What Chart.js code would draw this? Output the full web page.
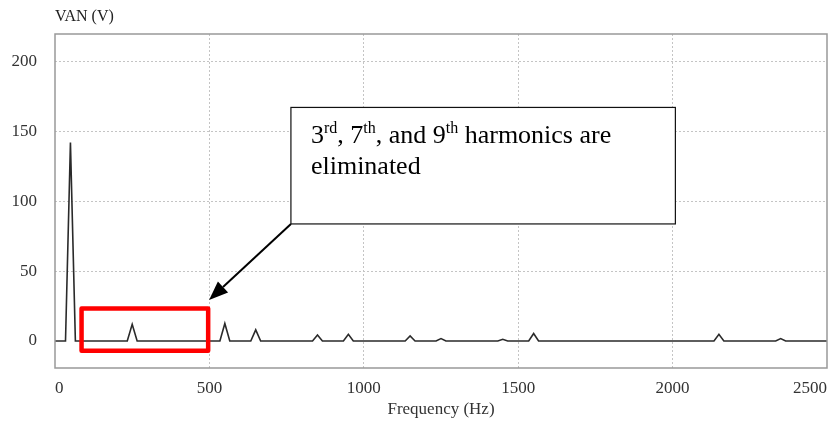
<!DOCTYPE html>
<html>
<head>
<meta charset="utf-8">
<script src="https://cdn.jsdelivr.net/npm/chart.js@4/dist/chart.umd.min.js"></script>
<style>
  body { margin: 0; background: #fff; }
  #wrap { width: 829px; height: 423px; position: relative; }
</style>
</head>
<body>
<div id="wrap"><canvas id="grafico"></canvas></div>
<script>
// spectrum of VAN (Hz / V)
var freqHz = [0, 34, 50, 66, 234, 250, 266, 534, 550, 566, 634, 650, 666,
              834, 850, 866, 934, 950, 966, 1134, 1150, 1166, 1234, 1250, 1266,
              1434, 1450, 1466, 1534, 1550, 1566, 2134, 2150, 2166, 2334, 2350, 2366, 2500];
var vanV = [0, 0, 142, 0, 0, 12, 0, 0, 12.5, 0, 0, 8, 0,
            0, 4.3, 0, 0, 4.8, 0, 0, 3.6, 0, 0, 1.7, 0,
            0, 1.2, 0, 0, 5.4, 0, 0, 4.8, 0, 0, 1.7, 0, 0];

var xTicks = [0, 500, 1000, 1500, 2000, 2500];
var yTicks = [0, 50, 100, 150, 200];

var yTitle = 'VAN (V)';
var xTitle = 'Frequency (Hz)';
// note text: [text, superscript?]
var noteParts = [['3', false], ['rd', true], [', 7', false], ['th', true],
                 [', and 9', false], ['th', true], [' harmonics are', false]];
var noteLine2 = 'eliminated';

var serif = "'Liberation Serif', 'Times New Roman', serif";
var gridCor = '#c4c4c4';

// annotation anchors in data units
var redBox = { x0: 86, x1: 496, y0: -7, y1: 23.2 };
var noteBox = { x0: 764, x1: 2009, y0: 83.7, y1: 167 };
var arrowTip = { x: 499, y: 29.3 };

var pontos = freqHz.map(function (f, i) { return { x: f, y: vanV[i] }; });

var extras = {
    id: 'extras',
    afterDraw: function (chart) {
        var ctx = chart.ctx;
        var a = chart.chartArea;
        var sx = chart.scales.x, sy = chart.scales.y;
        ctx.save();

        // frame
        ctx.strokeStyle = '#999';
        ctx.lineWidth = 1.5;
        ctx.strokeRect(a.left, a.top, a.right - a.left, a.bottom - a.top);

        // y title
        ctx.fillStyle = '#222';
        ctx.font = '16px ' + serif;
        ctx.textAlign = 'left';
        ctx.textBaseline = 'alphabetic';
        ctx.fillText(yTitle, a.left, 20.5);

        // red highlight
        ctx.strokeStyle = '#ff0000';
        ctx.lineWidth = 4.5;
        ctx.lineJoin = 'round';
        var rx0 = sx.getPixelForValue(redBox.x0), rx1 = sx.getPixelForValue(redBox.x1);
        var ry0 = sy.getPixelForValue(redBox.y1), ry1 = sy.getPixelForValue(redBox.y0);
        ctx.strokeRect(rx0, ry0, rx1 - rx0, ry1 - ry0);

        // note box
        var bx0 = sx.getPixelForValue(noteBox.x0), bx1 = sx.getPixelForValue(noteBox.x1);
        var by0 = sy.getPixelForValue(noteBox.y1), by1 = sy.getPixelForValue(noteBox.y0);
        ctx.fillStyle = '#fff';
        ctx.fillRect(bx0, by0, bx1 - bx0, by1 - by0);
        ctx.strokeStyle = '#111';
        ctx.lineWidth = 1.2;
        ctx.lineJoin = 'miter';
        ctx.strokeRect(bx0, by0, bx1 - bx0, by1 - by0);

        // note text
        ctx.fillStyle = '#000';
        var tx = bx0 + 20;
        var base1 = by0 + 36;
        noteParts.forEach(function (p) {
            if (p[1]) {
                ctx.font = '16px ' + serif;
                ctx.fillText(p[0], tx, base1 - 10);
            } else {
                ctx.font = '26px ' + serif;
                ctx.fillText(p[0], tx, base1);
            }
            tx += ctx.measureText(p[0]).width;
        });
        ctx.font = '26px ' + serif;
        ctx.fillText(noteLine2, bx0 + 20, base1 + 31);

        // arrow
        var ax = sx.getPixelForValue(arrowTip.x), ay = sy.getPixelForValue(arrowTip.y);
        var ang = Math.atan2(ay - by1, ax - bx0);
        var hl = 19, hw = 7.5;
        var bxh = ax - hl * Math.cos(ang), byh = ay - hl * Math.sin(ang);
        ctx.strokeStyle = '#000';
        ctx.lineWidth = 2;
        ctx.beginPath();
        ctx.moveTo(bx0, by1);
        ctx.lineTo(bxh, byh);
        ctx.stroke();
        ctx.beginPath();
        ctx.moveTo(ax, ay);
        ctx.lineTo(bxh + hw * Math.sin(ang), byh - hw * Math.cos(ang));
        ctx.lineTo(bxh - hw * Math.sin(ang), byh + hw * Math.cos(ang));
        ctx.closePath();
        ctx.fillStyle = '#000';
        ctx.fill();

        ctx.restore();
    }
};

var ctx = document.getElementById('grafico').getContext('2d');
var chart = new Chart(ctx, {
    type: 'line',
    data: {
        datasets: [{
            label: yTitle,
            data: pontos,
            borderColor: '#2a2a2a',
            borderWidth: 1.6,
            pointRadius: 0,
            tension: 0,
            fill: false
        }]
    },
    options: {
        responsive: true,
        maintainAspectRatio: false,
        animation: false,
        layout: { padding: { top: 34, right: 2, left: 0, bottom: 0 } },
        plugins: {
            legend: { display: false },
            tooltip: { enabled: false }
        },
        scales: {
            x: {
                type: 'linear',
                min: 0,
                max: 2500,
                afterBuildTicks: function (s) {
                    s.ticks = xTicks.map(function (v) { return { value: v }; });
                },
                afterFit: function (s) {
                    s.height = 55;
                    s.paddingLeft = 0;
                    s.paddingRight = 0;
                },
                border: { display: false, dash: [2, 2] },
                grid: {
                    drawTicks: false,
                    color: function (c) {
                        return (c.tick.value === 0 || c.tick.value === 2500) ? 'rgba(0,0,0,0)' : gridCor;
                    },
                    lineWidth: 1
                },
                ticks: {
                    align: 'inner',
                    padding: 10,
                    color: '#333',
                    font: { family: serif, size: 17 },
                    callback: function (v) { return String(v); }
                },
                title: {
                    display: true,
                    text: xTitle,
                    color: '#333',
                    font: { family: serif, size: 17 },
                    padding: { top: 0, bottom: 3 }
                }
            },
            y: {
                min: -19.3,
                max: 219.5,
                afterBuildTicks: function (s) {
                    s.ticks = yTicks.map(function (v) { return { value: v }; });
                },
                afterFit: function (s) {
                    s.width = 55;
                    s.paddingTop = 0;
                    s.paddingBottom = 0;
                },
                border: { display: false, dash: [2, 2] },
                grid: {
                    drawTicks: false,
                    color: function (c) {
                        return c.tick.value === 0 ? 'rgba(0,0,0,0)' : gridCor;
                    },
                    lineWidth: 1
                },
                ticks: {
                    padding: 18,
                    color: '#333',
                    font: { family: serif, size: 17 },
                    callback: function (v) { return String(v); }
                }
            }
        }
    },
    plugins: [extras]
});
</script>
</body>
</html>
